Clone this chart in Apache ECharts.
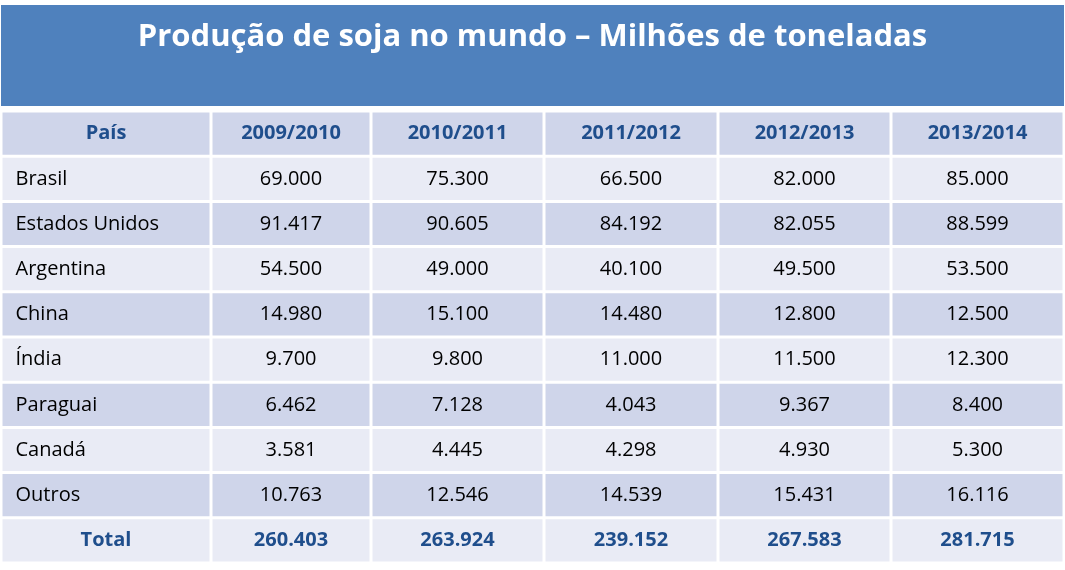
<!DOCTYPE html>
<html><head><meta charset="utf-8">
<script src="https://cdn.jsdelivr.net/npm/echarts@6/dist/echarts.min.js"></script>
<style>html,body{margin:0;padding:0;background:#fff}#main{width:1065px;height:570px}</style>
</head><body><div id="main"></div>
<script>
var title = 'Produção de soja no mundo – Milhões de toneladas';
var headers = ['País', '2009/2010', '2010/2011', '2011/2012', '2012/2013', '2013/2014'];
var countries = ['Brasil', 'Estados Unidos', 'Argentina', 'China', 'Índia', 'Paraguai', 'Canadá', 'Outros'];
var y2009 = ['69.000', '91.417', '54.500', '14.980', '9.700', '6.462', '3.581', '10.763'];
var y2010 = ['75.300', '90.605', '49.000', '15.100', '9.800', '7.128', '4.445', '12.546'];
var y2011 = ['66.500', '84.192', '40.100', '14.480', '11.000', '4.043', '4.298', '14.539'];
var y2012 = ['82.000', '82.055', '49.500', '12.800', '11.500', '9.367', '4.930', '15.431'];
var y2013 = ['85.000', '88.599', '53.500', '12.500', '12.300', '8.400', '5.300', '16.116'];
var totals = ['260.403', '263.924', '239.152', '267.583', '281.715'];

// column edges and row edges in the table's own units
var colEdges = [1, 211, 371, 544, 718, 891, 1064];
var rowTop = 111, rowH = 45.2;

var myChart = echarts.init(document.getElementById('main'));
var cells = [];
var cols = [y2009, y2010, y2011, y2012, y2013];
headers.forEach(function (h, c) { cells.push([c, 0, h, 'head']); });
countries.forEach(function (name, r) {
    cells.push([0, r + 1, name, r % 2 === 0 ? 'light' : 'dark']);
    cols.forEach(function (col, c) { cells.push([c + 1, r + 1, col[r], r % 2 === 0 ? 'light' : 'dark']); });
});
cells.push([0, 9, 'Total', 'total']);
totals.forEach(function (t, c) { cells.push([c + 1, 9, t, 'total']); });

var fills = { head: '#CFD5EA', dark: '#CFD5EA', light: '#E9EBF5', total: '#E9EBF5' };

var option = {
    animation: false,
    grid: { left: 0, right: 0, top: 0, bottom: 0 },
    xAxis: { type: 'value', min: 0, max: 1065, show: false },
    yAxis: { type: 'value', min: 0, max: 570, inverse: true, show: false },
    series: [{
        type: 'custom',
        data: [[0]],
        renderItem: function (params, api) {
            var p0 = api.coord([1, 5]), p1 = api.coord([1064, 106]);
            return {
                type: 'group', children: [
                    { type: 'rect', shape: { x: p0[0], y: p0[1], width: p1[0] - p0[0], height: p1[1] - p0[1] }, style: { fill: '#4F81BD' } },
                    { type: 'text', x: (p0[0] + p1[0]) / 2, y: 37, style: { text: title, fill: '#fff', font: 'bold 31px "Open Sans", sans-serif', align: 'center', verticalAlign: 'middle' } }
                ]
            };
        }
    }, {
        type: 'custom',
        data: cells,
        renderItem: function (params, api) {
            var d = cells[params.dataIndex];
            var c = d[0], r = d[1];
            var a = api.coord([colEdges[c] + 1.5, rowTop + r * rowH + 1.5]);
            var b = api.coord([colEdges[c + 1] - 1.5, rowTop + (r + 1) * rowH - 1.5]);
            var bold = d[3] === 'head' || d[3] === 'total';
            var left = c === 0 && (d[3] === 'light' || d[3] === 'dark');
            return {
                type: 'group', children: [
                    { type: 'rect', shape: { x: a[0], y: a[1], width: b[0] - a[0], height: b[1] - a[1] }, style: { fill: fills[d[3]] } },
                    { type: 'text', x: left ? a[0] + 13 : (a[0] + b[0]) / 2, y: (a[1] + b[1]) / 2,
                      style: { text: d[2], fill: bold ? '#1F4E8C' : '#000',
                               font: (bold ? 'bold ' : '') + '20px "Open Sans", sans-serif',
                               align: left ? 'left' : 'center', verticalAlign: 'middle' } }
                ]
            };
        }
    }]
};
myChart.setOption(option, true);
window.addEventListener('resize', function () { myChart.resize(); });
</script></body></html>
